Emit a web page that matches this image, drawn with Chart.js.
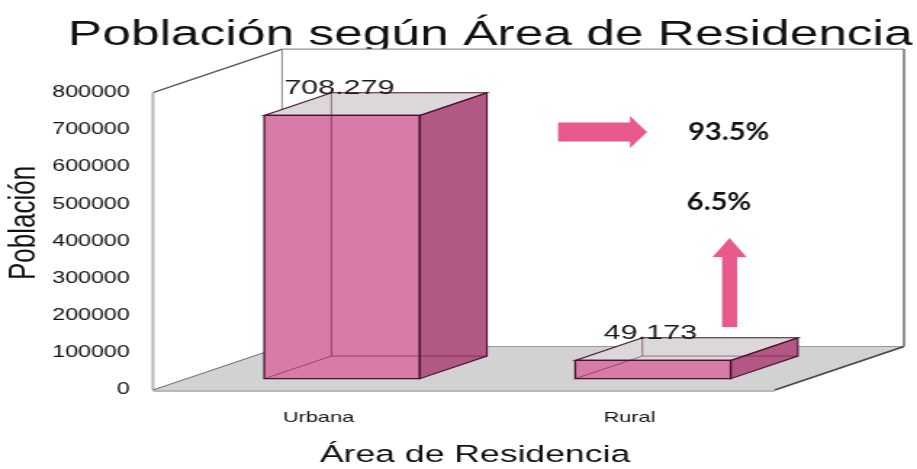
<!DOCTYPE html>
<html><head><meta charset="utf-8">
<script src="https://cdn.jsdelivr.net/npm/chart.js@4.4.1/dist/chart.umd.min.js"></script>
<style>
html,body{margin:0;padding:0;background:#fff;overflow:hidden;}
#wrap{width:917px;height:469px;overflow:hidden;}
#c{display:block;width:632px;height:469px;transform:scaleX(1.451);transform-origin:0 0;}
</style></head><body>
<div id="wrap"><canvas id="c" width="632" height="469"></canvas></div>
<script>
// ---- data ----
const categories = ['Urbana', 'Rural'];
const poblacion = [708279, 49173];
const yTickValues = [0, 100000, 200000, 300000, 400000, 500000, 600000, 700000, 800000];
const chartTitle = 'Población según Área de Residencia';
const xAxisTitle = 'Área de Residencia';
const yAxisTitle = 'Población';

const FONT = "'Liberation Sans', Arial, sans-serif";
const total = poblacion.reduce((a, b) => a + b, 0);
const pct = poblacion.map(v => (v / total * 100).toFixed(1) + '%');
const fmt = v => String(v).replace(/\B(?=(\d{3})+(?!\d))/g, '.');

const DEPTH = {x: 89, y: -43.5};
const FRONT = 0.26, BAR_DEPTH = 0.52;

function poly(ctx, pts, fill, stroke, lw) {
  ctx.beginPath();
  ctx.moveTo(pts[0][0], pts[0][1]);
  for (let i = 1; i < pts.length; i++) ctx.lineTo(pts[i][0], pts[i][1]);
  ctx.closePath();
  if (fill) { ctx.fillStyle = fill; ctx.fill(); }
  if (stroke) { ctx.strokeStyle = stroke; ctx.lineWidth = lw || 1; ctx.stroke(); }
}
function line(ctx, a, b, color, lw) {
  ctx.beginPath(); ctx.moveTo(a[0], a[1]); ctx.lineTo(b[0], b[1]);
  ctx.strokeStyle = color; ctx.lineWidth = lw || 1; ctx.stroke();
}

const threeD = {
  id: 'threeD',
  beforeDatasetsDraw(chart) {
    const {ctx, chartArea: a} = chart;
    const dx = DEPTH.x, dy = DEPTH.y;
    ctx.save();
    // floor
    poly(ctx, [[a.left, a.bottom], [a.right, a.bottom], [a.right + dx, a.bottom + dy], [a.left + dx, a.bottom + dy]], '#d2d2d2');
    // back wall
    poly(ctx, [[a.left + dx, a.top + dy], [a.right + dx, a.top + dy], [a.right + dx, a.bottom + dy], [a.left + dx, a.bottom + dy]], '#ffffff');
    // left wall
    poly(ctx, [[a.left, a.top], [a.left + dx, a.top + dy], [a.left + dx, a.bottom + dy], [a.left, a.bottom]], '#ffffff');
    // edges
    line(ctx, [a.left, a.top], [a.left + dx, a.top + dy], '#555', 1.2);
    line(ctx, [a.left + dx, a.top + dy], [a.right + dx, a.top + dy], '#777', 1);
    line(ctx, [a.right + dx, a.top + dy], [a.right + dx, a.bottom + dy], '#777', 1.6);
    line(ctx, [a.left + dx, a.top + dy], [a.left + dx, a.bottom + dy], '#888', 1);
    line(ctx, [a.left, a.top], [a.left, a.bottom], '#b5b5b5', 2);
    line(ctx, [a.left, a.bottom], [a.left + dx, a.bottom + dy], '#666', 1);
    line(ctx, [a.left + dx, a.bottom + dy], [a.right + dx, a.bottom + dy], '#999', 1);
    line(ctx, [a.right, a.bottom], [a.right + dx, a.bottom + dy], '#444', 1.4);
    line(ctx, [a.left, a.bottom + 1], [a.right, a.bottom + 1], '#a0a0a0', 1.5);
    ctx.restore();
  },
  afterDatasetsDraw(chart) {
    const {ctx} = chart;
    const meta = chart.getDatasetMeta(0);
    const fx = DEPTH.x * FRONT, fy = DEPTH.y * FRONT;
    const bx = DEPTH.x * BAR_DEPTH, by = DEPTH.y * BAR_DEPTH;
    ctx.save();
    meta.data.forEach((el, i) => {
      const p = el.getProps(['x', 'y', 'base', 'width'], true);
      const L = p.x - p.width / 2 + fx, R = p.x + p.width / 2 + fx;
      const T = p.y + fy, B = p.base + fy;
      poly(ctx, [[L, T], [R, T], [R, B], [L, B]], '#d67ca6');
      poly(ctx, [[R, T], [R + bx, T + by], [R + bx, B + by], [R, B]], '#b25885');
      poly(ctx, [[L, T], [L + bx, T + by], [R + bx, T + by], [R, T]], '#dcd8da');
      const hc = 'rgba(100,20,60,0.55)';
      line(ctx, [L + bx, T + by], [L + bx, B + by], hc, 1);
      line(ctx, [L + bx, B + by], [R + bx, B + by], hc, 1);
      line(ctx, [L, B], [L + bx, B + by], hc, 1);
      const ec = '#4a1030';
      poly(ctx, [[L, T], [R, T], [R, B], [L, B]], null, ec, 1.3);
      poly(ctx, [[R, T], [R + bx, T + by], [R + bx, B + by], [R, B]], null, ec, 1.1);
      poly(ctx, [[L, T], [L + bx, T + by], [R + bx, T + by], [R, T]], null, ec, 1.1);
      ctx.fillStyle = '#1a1a1a';
      ctx.font = '21px ' + FONT;
      ctx.textAlign = 'center';
      ctx.textBaseline = 'alphabetic';
      ctx.fillText(fmt(poblacion[i]), L + bx + 5.5, T + by + 1.5);
    });

    const pink = '#e9598c';
    poly(ctx, [[384.6, 122.5], [434.2, 122.5], [434.2, 116], [445.9, 132], [434.2, 148], [434.2, 141.5], [384.6, 141.5]], pink);
    poly(ctx, [[497.6, 327], [497.6, 257], [491.1, 257], [502.8, 238], [514.5, 257], [508, 257], [508, 327]], pink);

    const texts = [[pct[0], 474.2, 131.7], [pct[1], 473.3, 201.7]];
    texts.forEach(([t, x, y]) => {
      ctx.save();
      ctx.translate(x, y);
      ctx.scale(0.8, 1);
      ctx.fillStyle = '#111';
      ctx.font = "bold 25px Lato, 'Open Sans', sans-serif";
      ctx.textAlign = 'left';
      ctx.textBaseline = 'middle';
      ctx.fillText(t, 0, 0);
      ctx.restore();
    });

    // axis titles
    ctx.fillStyle = '#111';
    ctx.textAlign = 'center';
    ctx.textBaseline = 'middle';
    ctx.font = '24.5px ' + FONT;
    ctx.fillText(xAxisTitle, 327.4, 455);
    ctx.save();
    ctx.translate(16.5, 223);
    ctx.rotate(-Math.PI / 2);
    ctx.font = '26px ' + FONT;
    ctx.fillText(yAxisTitle, 0, 0);
    ctx.restore();
    ctx.restore();
  }
};

new Chart(document.getElementById('c'), {
  type: 'bar',
  data: {
    labels: categories,
    datasets: [{
      data: poblacion,
      backgroundColor: 'rgba(0,0,0,0)',
      borderWidth: 0,
      barPercentage: 0.5,
      categoryPercentage: 1.0
    }]
  },
  options: {
    responsive: false,
    animation: false,
    devicePixelRatio: 1,
    layout: {padding: {right: 3, left: 0, top: 0, bottom: 0}},
    plugins: {
      legend: {display: false},
      tooltip: {enabled: false},
      title: {
        display: true, text: chartTitle, align: 'end', color: '#111',
        font: {family: FONT, size: 35.5, weight: 'normal'},
        padding: {top: 14, bottom: 36}
      }
    },
    scales: {
      x: {
        grid: {display: false, drawTicks: false},
        border: {display: false},
        ticks: {font: {family: FONT, size: 15}, color: '#111', padding: 19, labelOffset: 7},
        afterFit(s) { s.height = 79; }
      },
      y: {
        min: 0, max: 800000,
        afterBuildTicks(s) { s.ticks = yTickValues.map(v => ({value: v})); },
        grid: {display: false, drawTicks: false},
        border: {display: false},
        ticks: {font: {family: FONT, size: 16}, color: '#111', padding: 16, callback: v => String(v)},
        afterFit(s) { s.width = 105.4; }
      },
      yR: {
        position: 'right', display: true,
        grid: {display: false, drawTicks: false},
        border: {display: false},
        ticks: {display: false},
        afterFit(s) { s.width = 95; }
      }
    }
  },
  plugins: [threeD]
});
</script>
</body></html>
